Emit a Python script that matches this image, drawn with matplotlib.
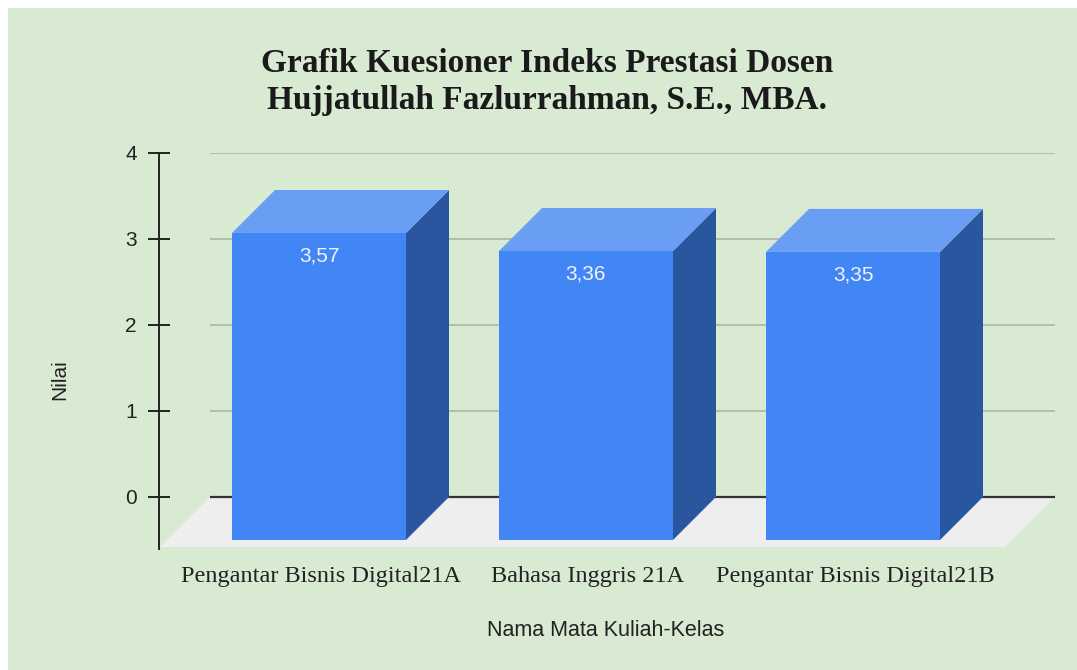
import matplotlib
matplotlib.use("Agg")
import matplotlib.pyplot as plt
from matplotlib.patches import Polygon, Rectangle

# ---- data ----
categories = ["Pengantar Bisnis Digital21A", "Bahasa Inggris 21A", "Pengantar Bisnis Digital21B"]
values = [3.57, 3.36, 3.35]
value_labels = ["3,57", "3,36", "3,35"]
yticks = [0, 1, 2, 3, 4]
title_lines = ["Grafik Kuesioner Indeks Prestasi Dosen", "Hujjatullah Fazlurrahman, S.E., MBA."]
xlabel = "Nama Mata Kuliah-Kelas"
ylabel = "Nilai"

W, H = 1077, 670
BG = "#d9ead3"
FRONT = "#4285f4"
TOP = "#6a9ef5"
SIDE = "#2a56a0"
FLOOR = "#eeeeee"
GRID = "#a9b8a4"

fig = plt.figure(figsize=(W / 100, H / 100), dpi=100, facecolor="white")
fig.patches.append(Rectangle((8 / W, 0), 1, 1 - 8 / H, transform=fig.transFigure,
                             facecolor=BG, edgecolor="none", zorder=-10))

# axes mapped to pixels: x from 159 to 1055, y from 549 (bottom) to 153 (top)
ax = fig.add_axes([159 / W, (H - 549) / H, (1055 - 159) / W, (549 - 153) / H])
ax.set_facecolor("none")
px_per_cat = 267.0
x0_px = 362.0
ax.set_xlim((159 - x0_px) / px_per_cat, (1055 - x0_px) / px_per_cat)
ax.set_ylim(-0.605, 4.0)

ux = 1.0 / px_per_cat      # x units per pixel
uy = 1.0 / 86.0            # y units per pixel

# floor
fb_l, fb_r = (210 - x0_px) * ux, (1055 - x0_px) * ux
fdx, fdy = 50 * ux, 50 * uy
ax.add_patch(Polygon([(fb_l, 0), (fb_r, 0), (fb_r - fdx, -fdy), (fb_l - fdx, -fdy)],
                     closed=True, facecolor=FLOOR, edgecolor="none", zorder=1))

# gridlines (back plane)
for t in yticks:
    ax.plot([fb_l, fb_r], [t, t], color=("#333333" if t == 0 else GRID),
            lw=(1.6 if t == 0 else 1.2), zorder=2, solid_capstyle="butt")

# 3D bars
bw = 174 * ux
ddx, ddy = 43 * ux, 43 * uy
for i, v in enumerate(values):
    bl, br = i - bw / 2, i + bw / 2
    fl, fr = bl - ddx, br - ddx
    # side face
    ax.add_patch(Polygon([(fr, -ddy), (br, 0), (br, v), (fr, v - ddy)],
                         closed=True, facecolor=SIDE, edgecolor="none", zorder=3))
    # top face
    ax.add_patch(Polygon([(fl, v - ddy), (fr, v - ddy), (br, v), (bl, v)],
                         closed=True, facecolor=TOP, edgecolor="none", zorder=3))
    # front face
    ax.add_patch(Polygon([(fl, -ddy), (fr, -ddy), (fr, v - ddy), (fl, v - ddy)],
                         closed=True, facecolor=FRONT, edgecolor="none", zorder=4))
    ax.text(i - ddx, v - ddy - 23 * uy, value_labels[i], ha="center", va="center",
            color="#eef3fd", fontsize=15, family="Liberation Sans", zorder=5)
    # category label under the floor
    ax.text(i - ddx + 2 * ux, -0.605 - 28 * uy, categories[i], ha="center", va="center",
            fontsize=17.5, family="Liberation Serif", color="#222222", clip_on=False)

# axes styling
for s in ["top", "right", "bottom"]:
    ax.spines[s].set_visible(False)
ax.spines["left"].set_color("#222222")
ax.spines["left"].set_linewidth(1.4)
ax.set_xticks([])
ax.set_yticks(yticks)
ax.tick_params(axis="y", direction="inout", length=16, width=1.4, color="#222222",
               labelsize=15, pad=8, labelcolor="#222222")
for lab in ax.get_yticklabels():
    lab.set_family("Liberation Sans")

# labels
fig.text(60 / W, 1 - 380 / H, ylabel, rotation=90, ha="center", va="center",
         fontsize=15, family="Liberation Sans", color="#222222")
fig.text(606 / W, 1 - 631 / H, xlabel, ha="center", va="center",
         fontsize=15.5, family="Liberation Sans", color="#222222")
fig.text(547 / W, 1 - 64 / H, title_lines[0], ha="center", va="center",
         fontsize=24, family="Liberation Serif", weight="bold", color="#1a1a1a")
fig.text(547 / W, 1 - 101 / H, title_lines[1], ha="center", va="center",
         fontsize=24, family="Liberation Serif", weight="bold", color="#1a1a1a")

fig.savefig("out.png", dpi=100, facecolor=fig.get_facecolor())
